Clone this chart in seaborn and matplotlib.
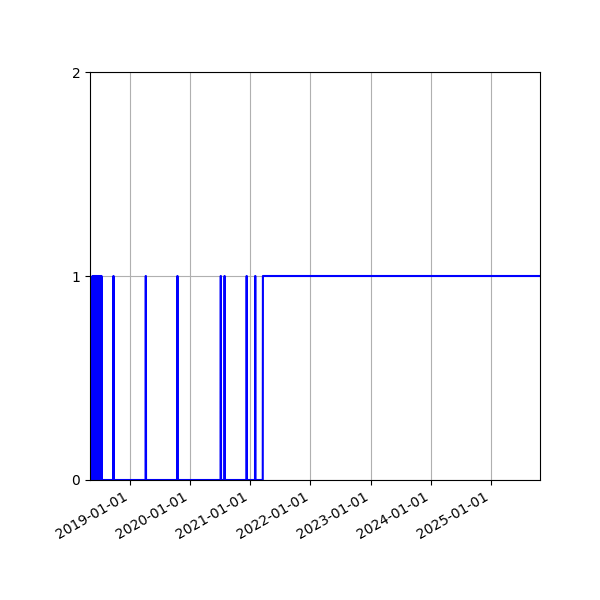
import matplotlib
matplotlib.use("Agg")
import matplotlib.pyplot as plt
import matplotlib.dates as mdates
import seaborn as sns
import pandas as pd

# Observation window
start_date = "2018-05-05"
end_date = "2025-10-25"

# Short spikes to 1 (start, end)
spike_starts = [
    "2018-05-20",
    "2018-05-26", "2018-05-29", "2018-06-01", "2018-06-04", "2018-06-07",
    "2018-06-10", "2018-06-13", "2018-06-16", "2018-06-19", "2018-06-23",
    "2018-06-27", "2018-07-01", "2018-07-05", "2018-07-09", "2018-07-13",
    "2018-09-24",
    "2019-04-08",
    "2019-10-17",
    "2020-07-06",
    "2020-07-29",
    "2020-12-10",
    "2021-01-31",
]
spike_ends = [
    "2018-05-20",
    "2018-05-27", "2018-05-30", "2018-06-02", "2018-06-05", "2018-06-08",
    "2018-06-11", "2018-06-14", "2018-06-17", "2018-06-20", "2018-06-24",
    "2018-06-28", "2018-07-02", "2018-07-06", "2018-07-10", "2018-07-14",
    "2018-09-25",
    "2019-04-09",
    "2019-10-18",
    "2020-07-07",
    "2020-07-30",
    "2020-12-11",
    "2021-02-01",
]
# From this date on the value stays at 1
steady_on = "2021-03-19"

dates = pd.date_range(start_date, end_date, freq="D")
values = pd.Series(0, index=dates)
for s, e in zip(spike_starts, spike_ends):
    values[s:e] = 1
values[steady_on:] = 1
df = pd.DataFrame({"date": dates, "value": values.values})

fig, ax = plt.subplots(figsize=(6, 6), dpi=100)
sns.lineplot(data=df, x="date", y="value", color="blue", linewidth=1.5, ax=ax)

ax.set_xlim(pd.Timestamp(start_date), pd.Timestamp(end_date))
ax.set_ylim(0, 2)
ax.set_yticks([0, 1, 2])
ax.xaxis.set_major_locator(mdates.YearLocator())
ax.xaxis.set_major_formatter(mdates.DateFormatter("%Y-%m-%d"))
ax.set_xlabel("")
ax.set_ylabel("")
ax.grid(True)

fig.autofmt_xdate()
fig.subplots_adjust(left=0.15, right=0.9, top=0.88, bottom=0.2)
fig.savefig("out.png")
